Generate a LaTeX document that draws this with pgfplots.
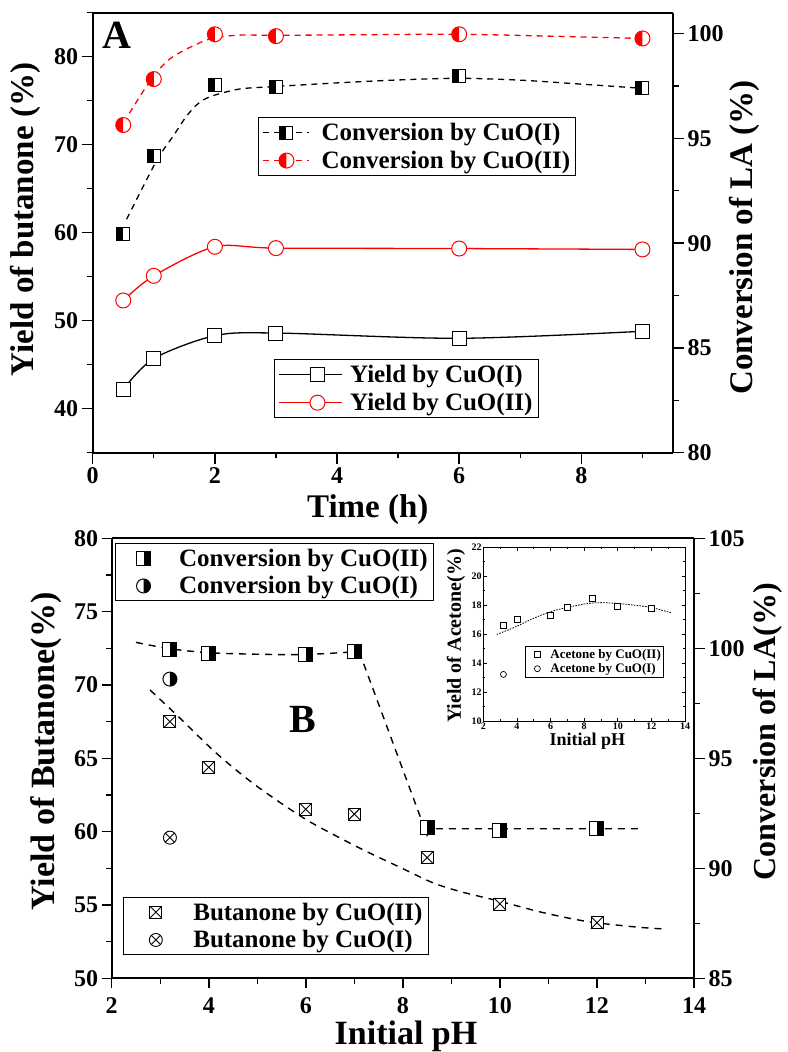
\documentclass[border=0pt]{standalone}
\usepackage{pgfplots}
\pgfplotsset{compat=1.18}
\usepackage{fontspec}
\setmainfont{Liberation Serif}
\newcommand\fs[1]{\fontsize{#1}{#1}\selectfont\bfseries}

% half-filled and crossed marks
\pgfdeclareplotmark{hsqL}{%
  \pgfsetfillcolor{white}%
  \pgfpathrectangle{\pgfpoint{-\pgfplotmarksize}{-\pgfplotmarksize}}{\pgfpoint{2\pgfplotmarksize}{2\pgfplotmarksize}}%
  \pgfusepathqfill
  \pgfsetfillcolor{black}%
  \pgfpathrectangle{\pgfpoint{-\pgfplotmarksize}{-\pgfplotmarksize}}{\pgfpoint{\pgfplotmarksize}{2\pgfplotmarksize}}%
  \pgfusepathqfill
  \pgfpathrectangle{\pgfpoint{-\pgfplotmarksize}{-\pgfplotmarksize}}{\pgfpoint{2\pgfplotmarksize}{2\pgfplotmarksize}}%
  \pgfusepathqstroke
}
\pgfdeclareplotmark{hsqR}{%
  \pgfsetfillcolor{white}%
  \pgfpathrectangle{\pgfpoint{-\pgfplotmarksize}{-\pgfplotmarksize}}{\pgfpoint{2\pgfplotmarksize}{2\pgfplotmarksize}}%
  \pgfusepathqfill
  \pgfsetfillcolor{black}%
  \pgfpathrectangle{\pgfpoint{0pt}{-\pgfplotmarksize}}{\pgfpoint{\pgfplotmarksize}{2\pgfplotmarksize}}%
  \pgfusepathqfill
  \pgfpathrectangle{\pgfpoint{-\pgfplotmarksize}{-\pgfplotmarksize}}{\pgfpoint{2\pgfplotmarksize}{2\pgfplotmarksize}}%
  \pgfusepathqstroke
}
\pgfdeclareplotmark{hcLred}{%
  \pgfsetfillcolor{white}%
  \pgfpathcircle{\pgfpointorigin}{\pgfplotmarksize}%
  \pgfusepathqfill
  \pgfsetfillcolor{red}%
  \pgfpathmoveto{\pgfpoint{0pt}{\pgfplotmarksize}}%
  \pgfpatharc{90}{270}{\pgfplotmarksize}%
  \pgfpathclose
  \pgfusepathqfill
  \pgfpathcircle{\pgfpointorigin}{\pgfplotmarksize}%
  \pgfusepathqstroke
}
\pgfdeclareplotmark{hcR}{%
  \pgfsetfillcolor{white}%
  \pgfpathcircle{\pgfpointorigin}{\pgfplotmarksize}%
  \pgfusepathqfill
  \pgfsetfillcolor{black}%
  \pgfpathmoveto{\pgfpoint{0pt}{\pgfplotmarksize}}%
  \pgfpatharc{90}{-90}{\pgfplotmarksize}%
  \pgfpathclose
  \pgfusepathqfill
  \pgfpathcircle{\pgfpointorigin}{\pgfplotmarksize}%
  \pgfusepathqstroke
}
\pgfdeclareplotmark{crsq}{%
  \pgfsetfillcolor{white}%
  \pgfpathrectangle{\pgfpoint{-\pgfplotmarksize}{-\pgfplotmarksize}}{\pgfpoint{2\pgfplotmarksize}{2\pgfplotmarksize}}%
  \pgfusepathqfillstroke
  \pgfpathmoveto{\pgfpoint{-\pgfplotmarksize}{-\pgfplotmarksize}}%
  \pgfpathlineto{\pgfpoint{\pgfplotmarksize}{\pgfplotmarksize}}%
  \pgfpathmoveto{\pgfpoint{-\pgfplotmarksize}{\pgfplotmarksize}}%
  \pgfpathlineto{\pgfpoint{\pgfplotmarksize}{-\pgfplotmarksize}}%
  \pgfusepathqstroke
}
\pgfdeclareplotmark{crci}{%
  \pgfsetfillcolor{white}%
  \pgfpathcircle{\pgfpointorigin}{\pgfplotmarksize}%
  \pgfusepathqfillstroke
  \pgfpathmoveto{\pgfpoint{-0.7071\pgfplotmarksize}{-0.7071\pgfplotmarksize}}%
  \pgfpathlineto{\pgfpoint{0.7071\pgfplotmarksize}{0.7071\pgfplotmarksize}}%
  \pgfpathmoveto{\pgfpoint{-0.7071\pgfplotmarksize}{0.7071\pgfplotmarksize}}%
  \pgfpathlineto{\pgfpoint{0.7071\pgfplotmarksize}{-0.7071\pgfplotmarksize}}%
  \pgfusepathqstroke
}
\pgfdeclareplotmark{sqw}{%
  \pgfsetfillcolor{white}%
  \pgfpathrectangle{\pgfpoint{-\pgfplotmarksize}{-\pgfplotmarksize}}{\pgfpoint{2\pgfplotmarksize}{2\pgfplotmarksize}}%
  \pgfusepathqfillstroke
}
\pgfdeclareplotmark{ciw}{%
  \pgfsetfillcolor{white}%
  \pgfpathcircle{\pgfpointorigin}{\pgfplotmarksize}%
  \pgfusepathqfillstroke
}

\pgfplotsset{
  myaxis/.style={scale only axis, clip=false, tick align=outside,
    major tick length=11pt, minor tick length=5.5pt,
    major tick style={line width=1.5pt, black},
    minor tick style={line width=1.3pt, black},
    axis line style={line width=1.8pt},
    /pgf/number format/assume math mode=true,
    tick label style={font=\fs{24}},
    xlabel style={font=\fs{33}}, ylabel style={font=\fs{33}},
    legend cell align=left,
    legend style={draw=black, line width=1pt, inner xsep=4pt, inner ysep=4pt,
      nodes={inner sep=1.5pt}, font=\fs{25}, row sep=6pt},
  },
}

\begin{document}
\begin{tikzpicture}
\path[use as bounding box] (0pt,0pt) rectangle (787pt,-1052pt);

%================ Panel A : yields (left axis)
\begin{axis}[myaxis, at={(92.7pt,-452.7pt)}, anchor=south west,
  width=580.3pt, height=440pt,
  xmin=0, xmax=9.5, ymin=35, ymax=85,
  axis x line*=bottom, axis y line*=left,
  xtick={0,2,4,6,8}, minor xtick={1,3,5,7,9},
  ytick={40,50,60,70,80}, minor ytick={35,45,55,65,75,85},
  xlabel={Time (h)}, ylabel={Yield of butanone (\%)},
  xlabel style={at={(axis description cs:0.474,-0.130)}, anchor=center},
  ylabel style={at={(axis description cs:-0.1167,0.53)}, anchor=center},
  legend image code/.code={\draw[mark repeat=2,mark phase=2,#1] plot coordinates {(0pt,0pt) (38pt,0pt) (62pt,0pt)};},
  legend style={at={(0.313,0.212)}, anchor=north west, column sep=6.5pt},
]
\addplot[black, line width=1.3pt, smooth, mark=square*, mark size=7pt,
  mark options={fill=white, line width=1pt}] coordinates {
  (0.5,42.2) (1,45.7) (2,48.3) (3,48.6) (6,48.0) (9,48.8)};
\addlegendentry{Yield by CuO(I)}
\addplot[red, line width=1.3pt, smooth, mark=*, mark size=7.5pt,
  mark options={fill=white, draw=red, line width=1pt}] coordinates {
  (0.5,52.3) (1,55.1) (2,58.4) (3,58.25) (6,58.2) (9,58.1)};
\addlegendentry{Yield by CuO(II)}
\node[font=\fs{40}] at (rel axis cs:0.041,0.948) {A};
\end{axis}

%================ Panel A : conversion (right axis)
\begin{axis}[myaxis, at={(92.7pt,-452.7pt)}, anchor=south west,
  width=580.3pt, height=440pt,
  xmin=0, xmax=9.5, ymin=80, ymax=101,
  axis x line*=top, axis y line*=right,
  xtick=\empty, minor xtick={1,2,3,4,5,6,7,8,9},
  ytick={80,85,90,95,100}, minor ytick={82.5,87.5,92.5,97.5},
  ylabel={Conversion of LA (\%)},
  ylabel style={at={(axis description cs:1.1224,0.489)}, anchor=center},
  legend image code/.code={\draw[mark repeat=2,mark phase=2,#1] plot coordinates {(0pt,0pt) (23pt,0pt) (46pt,0pt)};},
  legend style={at={(0.2854,0.7623)}, anchor=north west, column sep=10pt},
]
\addplot[black, line width=1.3pt, dash pattern=on 6pt off 5pt, smooth, forget plot] coordinates {
  (0.555,91.14) (1.045,93.93) (1.32,95.12) (1.54,96.08) (1.75,96.72) (1.97,97.04)
  (2.41,97.36) (2.95,97.47) (4,97.65) (5,97.79) (6,97.87) (7,97.78) (8,97.59) (9,97.39)};
\addplot[red, line width=1.3pt, dash pattern=on 6pt off 5pt, smooth, forget plot] coordinates {
  (0.6,96.2) (0.96,97.83) (1.26,98.79) (1.645,99.42) (1.97,99.79) (2.41,99.93)
  (3,99.92) (4.5,99.95) (6,99.97) (7.5,99.88) (9,99.77)};
\addplot[black, only marks, mark=hsqL, mark size=6.5pt, mark options={line width=1pt}, forget plot] coordinates {
  (0.5,90.44) (1,94.17) (2,97.55) (3,97.47) (6,97.99) (9,97.39)};
\addplot[red, only marks, mark=hcLred, mark size=7.5pt, mark options={draw=red, line width=1pt}, forget plot] coordinates {
  (0.5,95.64) (1,97.83) (2,99.97) (3,99.88) (6,99.97) (9,99.77)};
\addlegendimage{black, line width=1.3pt, dash pattern=on 6pt off 5pt, mark=hsqL, mark size=6.5pt, mark options={solid, line width=1pt}}
\addlegendentry{Conversion by CuO(I)}
\addlegendimage{red, line width=1.3pt, dash pattern=on 6pt off 5pt, mark=hcLred, mark size=7.5pt, mark options={solid, draw=red, line width=1pt}}
\addlegendentry{Conversion by CuO(II)}
\end{axis}

%================ Panel B : butanone (left axis)
\begin{axis}[myaxis, at={(111.7pt,-978.3pt)}, anchor=south west,
  width=582.3pt, height=440pt,
  xmin=2, xmax=14, ymin=50, ymax=80,
  major tick length=10pt,
  axis x line*=bottom, axis y line*=left,
  xtick={2,4,6,8,10,12,14}, minor xtick={3,5,7,9,11,13},
  ytick={50,55,60,65,70,75,80}, minor ytick={52.5,57.5,62.5,67.5,72.5,77.5},
  xticklabel style={yshift=-6pt},
  xlabel={Initial pH}, ylabel={Yield of Butanone(\%)},
  xlabel style={font=\fs{34}, at={(axis description cs:0.5054,-0.131)}, anchor=center},
  ylabel style={font=\fs{34}, at={(axis description cs:-0.1128,0.5155)}, anchor=center},
  legend image code/.code={\path[draw=none, draw opacity=0] (0pt,0pt) -- (56pt,0pt); \draw[mark repeat=2,mark phase=2,#1,only marks] plot coordinates {(0pt,0pt) (28pt,0pt) (56pt,0pt)};},
  legend style={at={(0.02,0.1855)}, anchor=north west, column sep=8pt},
]
\addplot[black, line width=1.4pt, dash pattern=on 7pt off 6pt, smooth, forget plot] coordinates {
  (2.79,69.66) (3.34,67.95) (4.16,65.34) (4.95,63.2) (5.91,61.02) (6.57,59.8) (7.25,58.65)
  (7.94,57.57) (8.63,56.5) (9.2,55.9) (10,55.25) (10.8,54.55) (11.5,54.05) (12,53.78)
  (12.9,53.47) (13.42,53.36)};
\addplot[black, only marks, mark=crsq, mark size=6pt, mark options={line width=0.9pt}, forget plot] coordinates {
  (3.2,67.5) (4,64.39) (6,61.53) (7,61.2) (8.5,58.23) (10,55.07) (12,53.79)};
\addplot[black, only marks, mark=crci, mark size=6.5pt, mark options={line width=0.9pt}, forget plot] coordinates {
  (3.2,59.59)};
\addlegendimage{black, mark=crsq, mark size=6pt, mark options={line width=0.9pt}}
\addlegendentry{Butanone by CuO(II)}
\addlegendimage{black, mark=crci, mark size=6.5pt, mark options={line width=0.9pt}}
\addlegendentry{Butanone by CuO(I)}
\node[font=\fs{40}] at (rel axis cs:0.3277,0.589) {B};
\end{axis}

%================ Panel B : conversion (right axis)
\begin{axis}[myaxis, at={(111.7pt,-978.3pt)}, anchor=south west,
  width=582.3pt, height=440pt,
  xmin=2, xmax=14, ymin=85, ymax=105,
  axis x line*=top, axis y line*=right,
  xtick=\empty, minor xtick={3,4,5,6,7,8,9,10,11,12,13},
  ytick={85,90,95,100,105}, minor ytick={87.5,92.5,97.5,102.5},
  ylabel={Conversion of LA(\%)},
  ylabel style={font=\fs{32}, at={(axis description cs:1.127,0.5605)}, anchor=center},
  legend image code/.code={\path[draw=none, draw opacity=0] (0pt,0pt) -- (48pt,0pt); \draw[mark repeat=2,mark phase=2,#1,only marks] plot coordinates {(0pt,0pt) (24pt,0pt) (48pt,0pt)};},
  legend style={at={(0.0057,0.99)}, anchor=north west, column sep=10pt},
]
\addplot[black, line width=1.4pt, dash pattern=on 7pt off 6pt, smooth, forget plot] coordinates {
  (2.5,100.27) (3.2,99.98) (4,99.8) (5,99.73) (6,99.72) (7,99.84)};
\addplot[black, line width=1.4pt, dash pattern=on 7pt off 6pt, forget plot] coordinates {
  (7.1,99.85) (8.5,91.5) (8.6,91.8) (10,91.8) (12.9,91.8)};
\addplot[black, only marks, mark=hsqR, mark size=7pt, mark options={line width=1pt}, forget plot] coordinates {
  (3.2,99.95) (4,99.77) (6,99.73) (7,99.85) (8.5,91.85) (10,91.74) (12,91.79)};
\addplot[black, only marks, mark=hcR, mark size=7pt, mark options={line width=1pt}, forget plot] coordinates {
  (3.2,98.6)};
\addlegendimage{black, mark=hsqR, mark size=7pt, mark options={line width=1pt}}
\addlegendentry{Conversion by CuO(II)}
\addlegendimage{black, mark=hcR, mark size=7pt, mark options={line width=1pt}}
\addlegendentry{Conversion by CuO(I)}
\end{axis}

%================ Inset : acetone
\begin{axis}[scale only axis, clip=false, at={(483.3pt,-721pt)}, anchor=south west,
  width=201.7pt, height=173.7pt,
  xmin=2, xmax=14, ymin=10, ymax=22,
  xtick={2,4,6,8,10,12,14}, minor xtick={3,5,7,9,11,13},
  ytick={10,12,14,16,18,20,22}, minor ytick={11,13,15,17,19,21},
  tick align=inside, xtick pos=both, ytick pos=both,
  major tick length=3.5pt, minor tick length=2pt,
  major tick style={line width=0.8pt, black}, minor tick style={line width=0.7pt, black},
  axis line style={line width=0.9pt},
  /pgf/number format/assume math mode=true,
  tick label style={font=\fs{10}},
  xticklabel style={inner sep=1.5pt}, yticklabel style={inner sep=1.5pt},
  xlabel={Initial pH}, ylabel={Yield of Acetone(\%)},
  xlabel style={font=\fs{18}, at={(axis description cs:0.5156,-0.115)}, anchor=center},
  ylabel style={font=\fs{20}, at={(axis description cs:-0.135,0.489)}, anchor=center},
  legend cell align=left,
  legend image code/.code={\path[draw=none, draw opacity=0] (0pt,0pt) -- (20pt,0pt); \draw[mark repeat=2,mark phase=2,#1,only marks] plot coordinates {(0pt,0pt) (10pt,0pt) (20pt,0pt)};},
  legend style={at={(0.2067,0.4318)}, anchor=north west, draw=black, line width=0.8pt,
    inner xsep=2pt, inner ysep=2pt, nodes={inner sep=1pt}, font=\fs{13}, column sep=2pt, row sep=1.5pt},
]
\addplot[black, line width=0.8pt, dash pattern=on 1.6pt off 1.2pt, smooth, forget plot] coordinates {
  (2.8,15.98) (3.5,16.3) (4,16.55) (5,17.1) (6,17.55) (7,17.85) (8,18.08) (8.5,18.15)
  (9,18.18) (10,18.12) (11,18.0) (12,17.84) (13.2,17.47)};
\addplot[black, only marks, mark=sqw, mark size=3pt, mark options={line width=0.7pt}, forget plot] coordinates {
  (3.2,16.62) (4,17.04) (6,17.31) (7,17.82) (8.5,18.49) (10,17.93) (12,17.8)};
\addplot[black, only marks, mark=ciw, mark size=3pt, mark options={line width=0.7pt}, forget plot] coordinates {
  (3.2,13.22)};
\addlegendimage{black, mark=sqw, mark size=3pt, mark options={line width=0.7pt}}
\addlegendentry{Acetone by CuO(II)}
\addlegendimage{black, mark=ciw, mark size=3pt, mark options={line width=0.7pt}}
\addlegendentry{Acetone by CuO(I)}
\end{axis}
\end{tikzpicture}
\end{document}
